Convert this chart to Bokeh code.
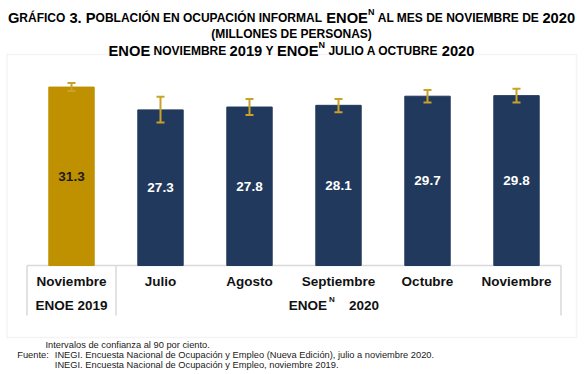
from bokeh.plotting import figure
from bokeh.models import FactorRange, Range1d, ColumnDataSource, Whisker, TeeHead, Label, BoxAnnotation
from bokeh.core.properties import value
from bokeh.embed import file_html
from bokeh.resources import INLINE

# ---------------- data ----------------
months = ["Noviembre", "Julio", "Agosto", "Septiembre", "Octubre", "Noviembre"]
years = ["2019", "2020", "2020", "2020", "2020", "2020"]
values = [31.3, 27.3, 27.8, 28.1, 29.7, 29.8]
ci_lower = [30.6, 25.1, 26.4, 26.9, 28.6, 28.6]
ci_upper = [32.0, 29.6, 29.2, 29.2, 30.8, 31.0]
group_years = ["2019", "2020"]
group_sizes = [1, 5]

title_lines = [
    [("G", "L"), ("RÁFICO", "S"), (" 3. ", "L"), ("P", "L"),
     ("OBLACIÓN EN OCUPACIÓN INFORMAL ", "S"), ("ENOE", "L"), ("N", "U"),
     (" AL MES DE NOVIEMBRE DE ", "S"), ("2020", "L")],
    [("(MILLONES DE PERSONAS)", "S")],
    [("ENOE", "L"), (" NOVIEMBRE ", "S"), ("2019", "L"), (" Y ", "S"), ("ENOE", "L"),
     ("N", "U"), (" JULIO A OCTUBRE ", "S"), ("2020", "L")],
]
notes = [
    "Intervalos de confianza al 90 por ciento.",
    "INEGI. Encuesta Nacional de Ocupación y Empleo (Nueva Edición), julio a noviembre 2020.",
    "INEGI. Encuesta Nacional de Ocupación y Empleo, noviembre 2019.",
]
source_label = "Fuente:"

# ---------------- styles / layout ----------------
GOLD = "#BF9000"
NAVY = "#21395C"
WHISK = "#C9A227"
GRID = "#D9D9D9"
FONT = "Liberation Sans"

FIG_W, FIG_H = 587, 374
BASE_Y = 265          # page y of value 0
PX_Y = 5.7            # pixels per million
PX_X = 89             # pixels per category
FIRST_X = 26          # page x of left edge of first category

n = len(months)
total_units = FIG_W / PX_X
X_START = -(total_units - n) / 2


def dx(px):
    return X_START + px / PX_X


def dy(py):
    return (BASE_Y - py) / PX_Y


keys = [f"{m} {y}" for m, y in zip(months, years)]
src = ColumnDataSource(dict(
    key=keys,
    value=values,
    lower=ci_lower,
    upper=ci_upper,
    mid=[v / 2 for v in values],
    label=[f"{v:.1f}" for v in values],
    month=months,
    color=[GOLD if y == "2019" else NAVY for y in years],
    tcolor=["#1C1C1C" if y == "2019" else "#FFFFFF" for y in years],
))

p = figure(
    width=FIG_W, height=FIG_H,
    x_range=FactorRange(*keys, range_padding=(total_units - n) / n, range_padding_units="percent"),
    y_range=Range1d(dy(FIG_H), dy(0)),
    x_axis_location=None, y_axis_location=None,
    toolbar_location=None, output_backend="svg",
    min_border_left=0, min_border_right=0, min_border_top=0, min_border_bottom=0,
)
p.grid.grid_line_color = None
p.outline_line_color = None
p.background_fill_color = "white"
p.border_fill_color = "white"

# outer box
p.add_layout(BoxAnnotation(left=dx(6.5), right=dx(576), top=dy(54), bottom=dy(337),
                           fill_color=None, line_color=GRID, line_width=1.5, level="underlay"))

# table lines
p.segment(x0=[0], y0=[0], x1=[n], y1=[0], line_color=GRID, line_width=1.5)
bounds = [0]
for g in group_sizes:
    bounds.append(bounds[-1] + g)
p.segment(x0=bounds, y0=[0] * len(bounds), x1=bounds, y1=[dy(315)] * len(bounds),
          line_color=GRID, line_width=1.5)

# bars
p.vbar(x="key", top="value", width=0.51, source=src, fill_color="color", line_color="color")

# confidence intervals
head = dict(size=8, line_color=WHISK, line_width=2)
p.add_layout(Whisker(base="key", upper="upper", lower="lower", source=src, level="overlay",
                     line_color=WHISK, line_width=2,
                     upper_head=TeeHead(**head), lower_head=TeeHead(**head)))

# value labels
p.text(x="key", y="mid", text="label", source=src, text_align="center", text_baseline="middle",
       text_font=value(FONT), text_font_style="bold", text_font_size="13.5px", text_color="tcolor")

# category labels
p.text(x="key", y=dy(281), text="month", source=src, text_align="center", text_baseline="middle",
       text_font=value(FONT), text_font_style="bold", text_font_size="13.5px", text_color="#111111")

# group labels
centers = [(bounds[i] + bounds[i + 1]) / 2 for i in range(len(group_sizes))]
gkw = dict(text_font=value(FONT), text_font_style="bold", text_color="#111111", text_baseline="middle")
p.text(x=[centers[0]], y=[dy(305)], text=[f"ENOE {group_years[0]}"], text_align="center",
       text_font_size="13.5px", **gkw)
p.text(x=[centers[1] - 11.5 / PX_X], y=[dy(305)], text=["ENOE"], text_align="right",
       text_font_size="13.5px", **gkw)
p.text(x=[centers[1] - 9.5 / PX_X], y=[dy(299)], text=["N"], text_align="left",
       text_font_size="8px", **gkw)
p.text(x=[centers[1] + 10.5 / PX_X], y=[dy(305)], text=[group_years[1]], text_align="left",
       text_font_size="13.5px", **gkw)

# ---------------- title (small caps composed) ----------------
AB = {'A': 722, 'B': 722, 'C': 722, 'D': 722, 'E': 667, 'F': 611, 'G': 778, 'H': 722, 'I': 278,
      'J': 556, 'K': 722, 'L': 611, 'M': 833, 'N': 722, 'O': 778, 'P': 667, 'Q': 778, 'R': 722,
      'S': 667, 'T': 611, 'U': 722, 'V': 667, 'W': 944, 'X': 667, 'Y': 667, 'Z': 611,
      'Á': 722, 'Ó': 778, ' ': 278, '.': 278, '(': 333, ')': 333}
for d in "0123456789":
    AB[d] = 556
SIZES = {"L": 14.7, "S": 12.0, "U": 9.0}


def seg_w(t, sz):
    return sum(AB.get(c, 600) for c in t) / 1000 * sz


def place_line(segs, center_px, base_py, rise):
    total = sum(seg_w(t, SIZES[k]) for t, k in segs)
    x = center_px - total / 2
    for t, k in segs:
        sz = SIZES[k]
        lead = len(t) - len(t.lstrip(" "))
        s = t.strip(" ")
        if s:
            bx = x + lead * 278 / 1000 * sz
            by = base_py - (rise if k == "U" else 0)
            p.add_layout(Label(x=dx(bx), y=dy(by), text=s, text_align="left",
                               text_baseline="alphabetic", text_font=FONT,
                               text_font_style="bold", text_font_size=f"{sz}px",
                               text_color="#000000"))
        x += seg_w(t, sz)


place_line(title_lines[0], 291, 17, 6)
place_line(title_lines[1], 291, 33, 6)
place_line(title_lines[2], 291, 50, 5.5)

# ---------------- notes ----------------
nkw = dict(text_align="left", text_baseline="middle", text_font=FONT,
           text_font_size="9.3px", text_color="#1A1A1A")
p.add_layout(Label(x=dx(45), y=dy(344), text=notes[0], **nkw))
p.add_layout(Label(x=dx(16.7), y=dy(354), text=source_label, **nkw))
p.add_layout(Label(x=dx(54.3), y=dy(354), text=notes[1], **nkw))
p.add_layout(Label(x=dx(54.3), y=dy(364.5), text=notes[2], **nkw))

open("out.html", "w").write(file_html(p, INLINE))
